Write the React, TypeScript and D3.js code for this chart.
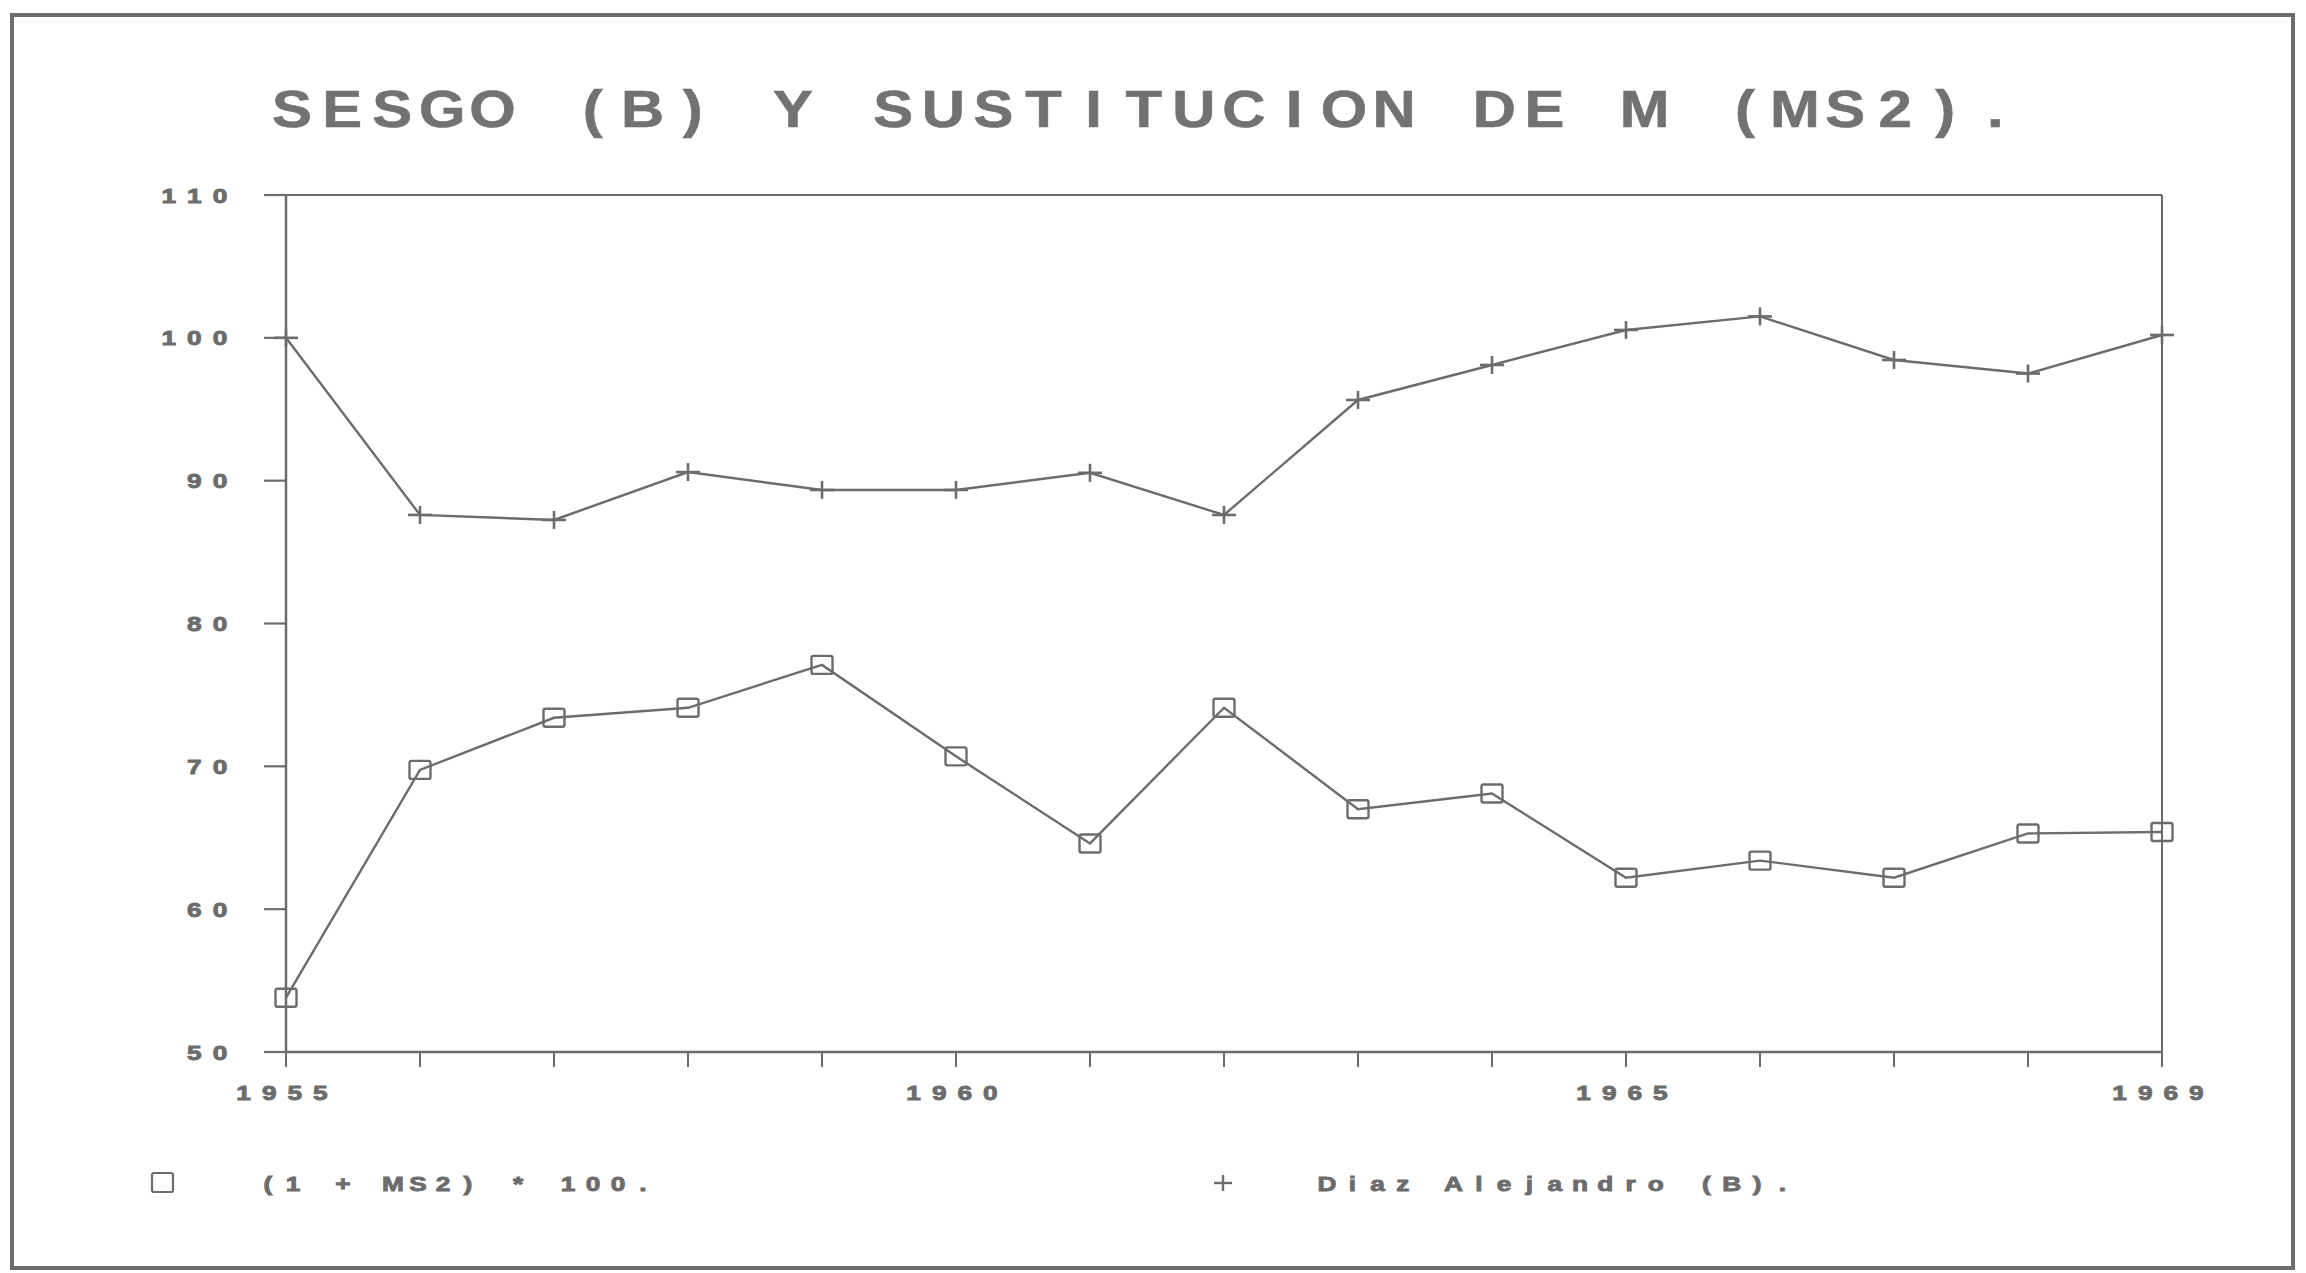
import React, { useEffect } from 'react';
import * as d3 from 'd3';

const years = [1955, 1956, 1957, 1958, 1959, 1960, 1961, 1962, 1963, 1964, 1965, 1966, 1967, 1968, 1969];
const ms2Values = [53.8, 69.75, 73.4, 74.1, 77.1, 70.7, 64.6, 74.1, 67.0, 68.1, 62.2, 63.4, 62.2, 65.3, 65.4];
const diazValues = [100.0, 87.6, 87.25, 90.6, 89.35, 89.35, 90.55, 87.6, 95.65, 98.1, 100.55, 101.5, 98.45, 97.5, 100.2];
const yTicks = [50, 60, 70, 80, 90, 100, 110];
const xLabelYears = [1955, 1960, 1965, 1969];
const titleText = 'SESGO (B) Y SUSTITUCION DE M (MS2).';
const legendLabels = ['(1 + MS2) * 100.', 'Diaz Alejandro (B).'];

const W = 2306;
const H = 1273;
const INK = '#6c6c6c';
const FONT = '"Liberation Sans", Arial, Helvetica, sans-serif';

type MonoProps = {
  text: string;
  x0: number;
  cy: number;
  pitch: number;
  size: number;
  sx: number;
  fill?: string;
  stroke?: number;
};

function MonoText({ text, x0, cy, pitch, size, sx, fill = INK, stroke = 0 }: MonoProps) {
  const chars = Array.from(text);
  const baseline = cy + size * 0.358;
  return (
    <text
      transform={`scale(${sx},1)`}
      fontFamily={FONT}
      fontWeight="bold"
      fontSize={size}
      fill={fill}
      stroke={stroke > 0 ? fill : 'none'}
      strokeWidth={stroke}
      textAnchor="middle"
      style={{ whiteSpace: 'pre' }}
    >
      {chars.map((c, i) => (
        <tspan key={i} x={(x0 + i * pitch) / sx} y={baseline}>
          {c}
        </tspan>
      ))}
    </text>
  );
}

export default function App() {
  useEffect(() => {
    document.body.style.margin = '0';
    document.body.style.overflow = 'hidden';
  }, []);

  const x = d3.scaleLinear().domain([1955, 1969]).range([286, 2162]);
  const y = d3.scaleLinear().domain([50, 110]).range([1052, 195]);

  const line = d3
    .line<number>()
    .x((_, i) => x(years[i]))
    .y((d) => y(d));

  const smallPitch = 25.6;
  const smallSize = 21;
  const smallSx = 1.25;
  const smallStroke = 0.9;

  const [x0, x1] = x.range();
  const [yb, yt] = y.range();

  return (
    <svg
      width={W}
      height={H}
      viewBox={`0 0 ${W} ${H}`}
      style={{ position: 'absolute', left: 0, top: 0, display: 'block', background: '#fff' }}
    >
      <rect x={0} y={0} width={W} height={H} fill="#fff" />
      <rect x={12} y={15} width={2281} height={1253} fill="none" stroke={INK} strokeWidth={4} />

      <MonoText text={titleText} x0={292} cy={108} pitch={50.1} size={52} sx={1.15} fill="#727272" stroke={0.6} />

      <line x1={x0} y1={yt} x2={x1} y2={yt} stroke={INK} strokeWidth={2.2} />
      <line x1={x1} y1={yt} x2={x1} y2={yb} stroke={INK} strokeWidth={2} />
      <line x1={x0} y1={yt} x2={x0} y2={yb} stroke={INK} strokeWidth={2.5} />
      <line x1={x0} y1={yb} x2={x1} y2={yb} stroke={INK} strokeWidth={2.5} />

      {yTicks.map((t) => {
        const label = String(t);
        const n = label.length;
        return (
          <g key={`y${t}`}>
            <line x1={x0 - 22} y1={y(t)} x2={x0} y2={y(t)} stroke={INK} strokeWidth={2.2} />
            <MonoText
              text={label}
              x0={220 - (n - 1) * smallPitch}
              cy={y(t)}
              pitch={smallPitch}
              size={smallSize}
              sx={smallSx}
              stroke={smallStroke}
            />
          </g>
        );
      })}

      {years.map((yr) => (
        <line key={`xt${yr}`} x1={x(yr)} y1={yb} x2={x(yr)} y2={yb + 15} stroke={INK} strokeWidth={2} />
      ))}
      {xLabelYears.map((yr) => {
        const label = String(yr);
        const n = label.length;
        return (
          <MonoText
            key={`xl${yr}`}
            text={label}
            x0={x(yr) - 4 - ((n - 1) / 2) * smallPitch}
            cy={1092}
            pitch={smallPitch}
            size={smallSize}
            sx={smallSx}
            stroke={smallStroke}
          />
        );
      })}

      <path d={line(ms2Values) || ''} fill="none" stroke={INK} strokeWidth={2.4} />
      <path d={line(diazValues) || ''} fill="none" stroke={INK} strokeWidth={2.4} />

      {ms2Values.map((v, i) => (
        <rect
          key={`sq${i}`}
          x={x(years[i]) - 10.5}
          y={y(v) - 9}
          width={21}
          height={18}
          fill="none"
          stroke={INK}
          strokeWidth={2.4}
          rx={2}
        />
      ))}

      {diazValues.map((v, i) => (
        <g key={`pl${i}`} stroke={INK} strokeWidth={2.6}>
          <line x1={x(years[i]) - 12} y1={y(v)} x2={x(years[i]) + 12} y2={y(v)} />
          <line x1={x(years[i])} y1={y(v) - 9} x2={x(years[i])} y2={y(v) + 9} />
        </g>
      ))}

      <rect x={152} y={1173} width={21} height={19} fill="none" stroke={INK} strokeWidth={2.2} rx={2} />
      <MonoText text={legendLabels[0]} x0={268} cy={1183} pitch={25} size={smallSize} sx={smallSx} stroke={smallStroke} />
      <g stroke={INK} strokeWidth={2.4}>
        <line x1={1223 - 9} y1={1183} x2={1223 + 9} y2={1183} />
        <line x1={1223} y1={1183 - 8} x2={1223} y2={1183 + 8} />
      </g>
      <MonoText text={legendLabels[1]} x0={1327} cy={1183} pitch={25.3} size={smallSize} sx={smallSx} stroke={smallStroke} />
    </svg>
  );
}
